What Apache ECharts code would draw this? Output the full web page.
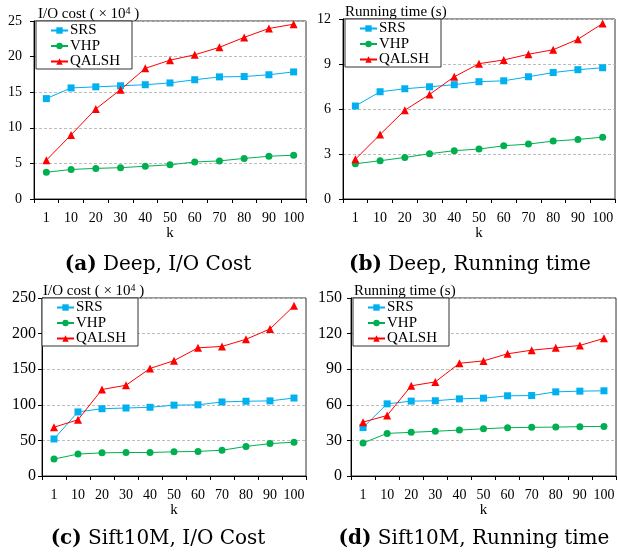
<!DOCTYPE html>
<html>
<head>
<meta charset="utf-8">
<script src="https://cdn.jsdelivr.net/npm/echarts@6/dist/echarts.min.js"></script>
<style>html,body{margin:0;padding:0;background:#fff;}#c{width:618px;height:552px;}</style>
</head>
<body>
<div id="c"></div>
<script>
const categories = ['1','10','20','30','40','50','60','70','80','90','100'];
const seriesNames = ['SRS','VHP','QALSH'];

// (a) Deep, I/O cost (x10^4)
const deepIoSRS   = [14.1, 15.6, 15.75, 15.9, 16.05, 16.3, 16.75, 17.15, 17.2, 17.45, 17.85];
const deepIoVHP   = [3.75, 4.15, 4.3, 4.4, 4.6, 4.8, 5.2, 5.35, 5.7, 6.0, 6.15];
const deepIoQALSH = [5.45, 9.0, 12.65, 15.35, 18.35, 19.5, 20.25, 21.3, 22.7, 23.95, 24.55];

// (b) Deep, running time (s)
const deepRtSRS   = [6.2, 7.15, 7.35, 7.48, 7.62, 7.82, 7.88, 8.15, 8.43, 8.62, 8.75];
const deepRtVHP   = [2.35, 2.55, 2.77, 3.02, 3.22, 3.33, 3.55, 3.66, 3.86, 3.97, 4.12];
const deepRtQALSH = [2.65, 4.3, 5.92, 6.97, 8.15, 9.02, 9.27, 9.65, 9.95, 10.65, 11.7];

// (c) Sift10M, I/O cost (x10^4)
const siftIoSRS   = [52, 90, 94.5, 95.5, 96.5, 99.5, 100, 104, 105, 105.5, 109.5];
const siftIoVHP   = [23.8, 30.8, 32.5, 33, 33, 34, 34.5, 36.2, 41.5, 45.5, 47.5];
const siftIoQALSH = [68.5, 79, 121.5, 127.5, 151, 162, 180, 182, 192, 206.5, 239];

// (d) Sift10M, running time (s)
const siftRtSRS   = [40.8, 60.8, 63.1, 63.4, 65, 65.6, 67.6, 67.8, 70.9, 71.5, 71.8];
const siftRtVHP   = [27.8, 35.9, 36.8, 37.7, 38.7, 39.8, 40.7, 41, 41.2, 41.6, 41.8];
const siftRtQALSH = [45.4, 51, 76, 79.3, 95, 97, 103, 106, 108, 110, 116];

const yTitles = ['I/O cost ( \u00d7 10{sup|4} )', 'Running time (s)', 'I/O cost ( \u00d7 10{sup|4} )', 'Running time (s)'];
const yMax = [25, 12, 250, 150];
const yInterval = [5, 3, 50, 30];
const captions = [
  ['(a)', 'Deep, I/O Cost'],
  ['(b)', 'Deep, Running time'],
  ['(c)', 'Sift10M, I/O Cost'],
  ['(d)', 'Sift10M, Running time']
];
const panelData = [
  [deepIoSRS, deepIoVHP, deepIoQALSH],
  [deepRtSRS, deepRtVHP, deepRtQALSH],
  [siftIoSRS, siftIoVHP, siftIoQALSH],
  [siftRtSRS, siftRtVHP, siftRtQALSH]
];

const FONT = 'Liberation Serif';
const colors = ['#00B0F0', '#00B050', '#FF0000'];
const symbols = ['rect', 'circle', 'triangle'];
const symbolSizes = [7, 7, 8];

const grids = [
  {left: 34, top: 21, width: 272, height: 178},
  {left: 343, top: 19, width: 272, height: 180},
  {left: 42, top: 298, width: 264, height: 178},
  {left: 351, top: 298, width: 265, height: 178}
];
const yLabelMargin = [12, 12, 6, 9];
const yLabelSize = [14, 14, 16, 16];
const namePad = [4, 2, 1, 3];
const legendPos = [
  {left: 36, top: 21},
  {left: 345, top: 19},
  {left: 42, top: 298},
  {left: 353, top: 298}
];
const captionPos = [[158, 265], [470, 265], [158, 539], [474, 539]];

const option = {
  animation: false,
  backgroundColor: '#fff',
  grid: grids.map(g => Object.assign({show: true, borderColor: '#333', borderWidth: 1, backgroundColor: 'transparent'}, g)),
  xAxis: grids.map((g, i) => ({
    type: 'category', gridIndex: i, data: categories,
    name: 'k', nameLocation: 'middle', nameGap: 26,
    nameTextStyle: {fontFamily: FONT, fontSize: 15, color: '#000'},
    axisLine: {lineStyle: {color: '#000', width: 1}},
    axisTick: {show: true, length: 4, lineStyle: {color: '#000'}},
    axisLabel: {fontFamily: FONT, fontSize: 14, color: '#000', margin: 12, interval: 0},
    splitLine: {show: false}
  })),
  yAxis: grids.map((g, i) => ({
    type: 'value', gridIndex: i, min: 0, max: yMax[i], interval: yInterval[i],
    name: yTitles[i], nameLocation: 'end', nameGap: 7,
    nameTextStyle: {
      fontFamily: FONT, fontSize: 15, color: '#000', align: 'left', verticalAlign: 'middle',
      padding: [0, 0, 0, namePad[i]],
      rich: {sup: {fontFamily: FONT, fontSize: 10, color: '#000', verticalAlign: 'top', lineHeight: 15}}
    },
    axisLine: {show: true, lineStyle: {color: '#000', width: 1}},
    axisTick: {show: true, length: 4, lineStyle: {color: '#000'}},
    axisLabel: {fontFamily: FONT, fontSize: yLabelSize[i], color: '#000', margin: yLabelMargin[i]},
    splitLine: {show: true, lineStyle: {color: '#bdbdbd', type: [3, 2], width: 1.2}}
  })),
  legend: legendPos.map((p, i) => ({
    orient: 'vertical', left: p.left, top: p.top,
    data: seriesNames,
    backgroundColor: '#fff', borderColor: '#333', borderWidth: 1,
    padding: [2, 12, 0, 14], itemGap: 0.5, itemWidth: 17, itemHeight: 8,
    textStyle: {fontFamily: FONT, fontSize: 15, lineHeight: 14, color: '#000', padding: [0, 0, 0, -3]},
    selectedMode: false
  })),
  series: [],
  graphic: captionPos.map((p, i) => ({
    type: 'text', x: p[0], y: p[1],
    style: {
      text: '{b|' + captions[i][0] + '} ' + captions[i][1],
      align: 'center', verticalAlign: 'middle',
      font: '20px "DejaVu Serif"', fill: '#000',
      rich: {b: {fontFamily: 'DejaVu Serif', fontWeight: 'bold', fontSize: 20}}
    }
  }))
};

panelData.forEach((arrs, i) => {
  arrs.forEach((arr, j) => {
    option.series.push({
      type: 'line', name: seriesNames[j], xAxisIndex: i, yAxisIndex: i,
      data: arr, symbol: symbols[j], symbolSize: symbolSizes[j],
      color: colors[j],
      lineStyle: {width: 1, color: colors[j]},
      itemStyle: {color: colors[j]},
      showSymbol: true
    });
  });
});

const chart = echarts.init(document.getElementById('c'), null, {renderer: 'canvas'});
chart.setOption(option);
</script>
</body>
</html>
